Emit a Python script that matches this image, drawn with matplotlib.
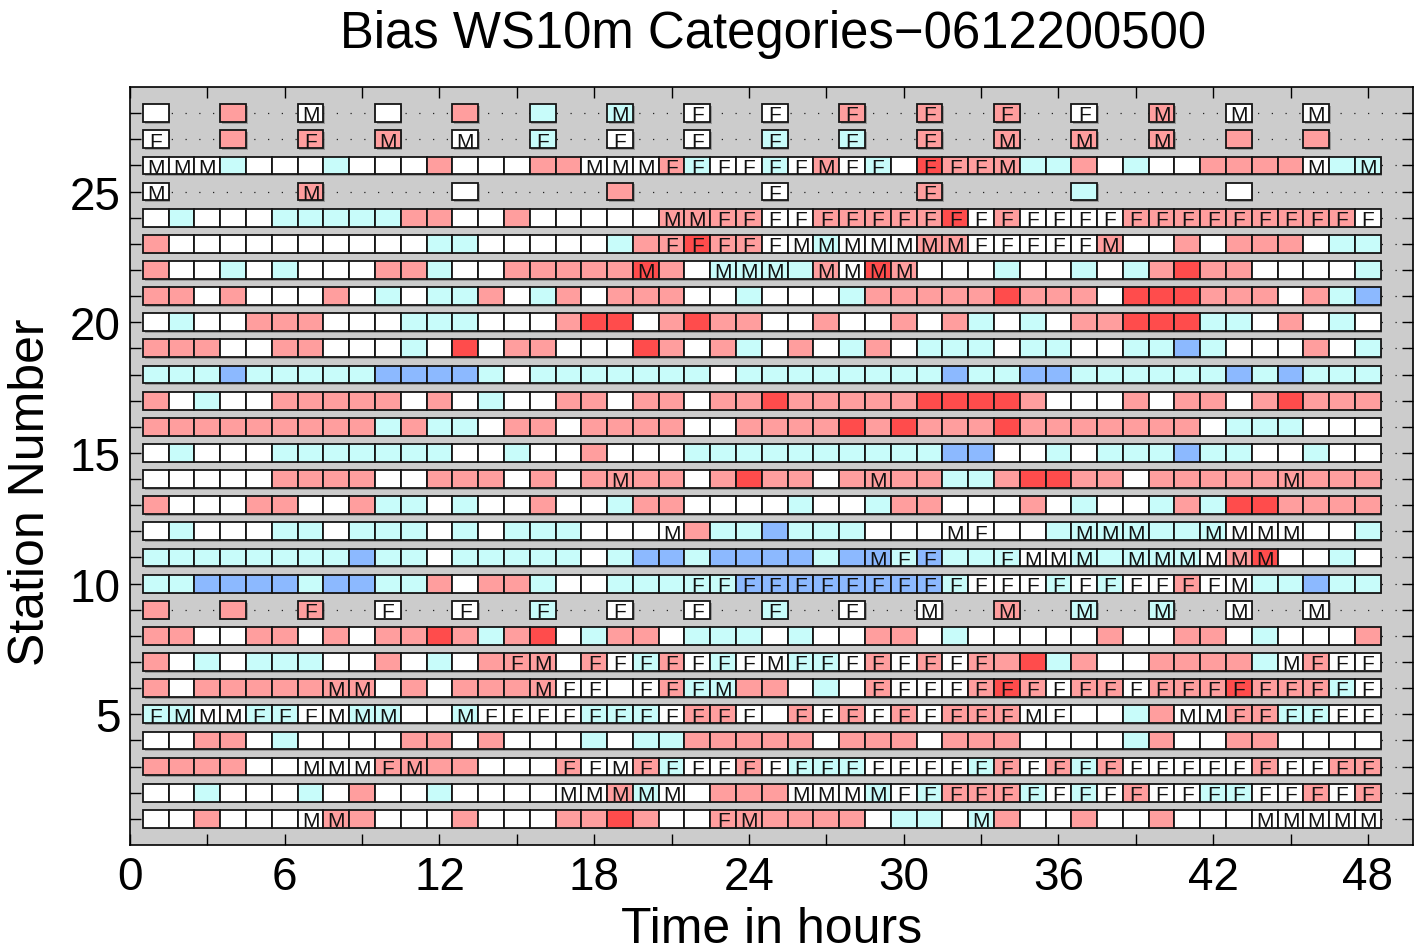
import matplotlib
matplotlib.use('Agg')
import matplotlib.pyplot as plt
from matplotlib.patches import Rectangle
import matplotlib.patheffects as pe

plt.rcParams['font.family'] = ['Liberation Sans', 'DejaVu Sans']

hours = list(range(1, 49))
stations = list(range(1, 29))

# bias category per station (station 1 first), one char per hour 1..48
# W=near zero, C=light negative, B=negative, R=light positive, D=positive, .=no data
category = [
    "WWRWWWWRRWWW RWWWRRDRWWRR RRRRWCCWCRWW RWWRWWWWWWWW",  # 1
    "WWCWWWCWRWWC WWWWWWRCWWRR RWWWCWCRRRCW CWRWWCCWWRWR",  # 2
    "RRRRWWWWWRRR RWWWRWWRCWWR WCCCWWWWCRWR CRWWWWWRWWRR",  # 3
    "WWRRWCWWWWRR WRWWWCWCCRRR RRWRRRWRRRWW WWCRWWRRWWWW",  # 4
    "CCWWCCWWCCWW CWWWWCCCWRRW WRWRWRWRRRWW WWCRWWRRCCWW",  # 5
    "RWRRRRRRRWRW RRRRWWWWRCCR RWCWRWWWRDRW RRWRRRDRRRCW",  # 6
    "RWCWCCCWWRWC WRRRWRWCRWCW WCCWRWRWRRDC RWWRRRRCWRWW",  # 7
    "RRWWRRWRWRRD RCRDWCRRWCCC WCWWRRWCWWWW WRWWRRWCWWWR",  # 8
    "R..R..R..W.. W..C..W..W.. C..W..W..R.. C..C..W..W..",  # 9
    "CCBBBBCBBCCR WRRCWWCCCCCB BBBBBBBCWWWC WCWWRWWCCBCC",  # 10
    "CCCCCCCCBCCW CCCCCWCBBCBB BBCBBCBCCCWW CCCCCWRDWWCW",  # 11
    "WCWWWCCWCCCW CWCCCWWWWRCC BCCCWWWWWWWC CCCCCCWWWWWC",  # 12
    "RWWWRRWWRCCW CWWRWWCRRWWW WCWWCRRWWWRW CWWCRCDDRRRR",  # 13
    "WWWWWRRRRWWR RRWRWRRRRWRD RRWRRRRCCRDD RRWRRRRRRRRR",  # 14
    "WCWWWCCCCCCC WWCWWRWWWCCC CCCCCCCBBWWC WCCCBCCWWCWW",  # 15
    "RRRRRRRRRCRC CWRRWRRRRWWR RRRDRDRRRDRR RRRRRWCCCWWW",  # 16
    "RWCWWRRRRRWR WCWWRRWRRWRR DRRRRRDDDDRW WWRWRRWRDRRR",  # 17
    "CCCBCCCCCBBB BCWCCCCCCCWC CCCCCCCBCCBB CCCCCCBCBCCC",  # 18
    "RRRWWRRWWWCW DWRRWWWDRWRC WRWCRWCCCWCC WWCCBCWWWRWC",  # 19
    "WCWWRRRWWWCC CWWWRDDWRDRR WWRWWRWRCWCW RRDDDCCWRWCW",  # 20
    "RRWRWWWRWCWC CRWCRWRRRWWC WWWCRRRRRDRR RWDDDRRRWRCB",  # 21
    "RWWCWCWWWRRC WWRRRRRDRWCC CCRWDRWWWCWW CWCRDRRWWWWC",  # 22
    "RWWWWWWWWWWC CWWWWWCRRDRR WWCWWWRRWWWW WRWWRWRRRWCC",  # 23
    "WCWWWCCCCCRR WWRWWWWWRRRR WWRRRRRDWRWW WWRRRRRRRRRW",  # 24
    "W.....R..... W.....R..... W.....R..... C.....W.....",  # 25
    "WWWCWWWCWWWR WWWRRWWWRCWW CWRWCWDRRRCC RWCWWRRRRWCC",  # 26
    "W..R..R..R.. W..C..W..W.. C..C..R..R.. R..R..R..R..",  # 27
    "W..R..W..W.. R..C..C..W.. W..R..R..R.. W..R..W..W..",  # 28
]

# letter flags per station, one char per hour 1..48 (. = none)
flags = [
    "......MM.... ..........FM ........M... .......MMMMM",  # 1
    "............ ....MMMMM... .MMMMFFFFFFF FFFFFFFFFFFF",  # 2
    "......MMMFM. ....FFMFFFFF FFFFFFFFFFFF FFFFFFFFFFFF",  # 3
    "............ ............ ............ ............",  # 4
    "FMMMFFFMMM.. MFFFFFFFFFFF .FFFFFFFFFMF ....MMFFFFFF",  # 5
    ".......MM... ...MFF.FFFM. ....FFFFFFFF FFFFFFFFFFFF",  # 6
    "............ ..FM.FFFFFFF MFFFFFFFF... ........MFFF",  # 7
    "............ ............ ............ ............",  # 8
    "......F..F.. F..F..F..F.. F..F..M..M.. M..M..M..M..",  # 9
    "............ .........FFF FFFFFFFFFFFF FFFFFFM.....",  # 10
    "............ ............ ....MFF..FMM M.MMMMMM....",  # 11
    "............ ........M... .......MF... MMM..MMMM...",  # 12
    "............ ............ ............ ............",  # 13
    "............ ......M..... ....M....... ........M...",  # 14
    "............ ............ ............ ............",  # 15
    "............ ............ ............ ............",  # 16
    "............ ............ ............ ............",  # 17
    "............ ............ ............ ............",  # 18
    "............ ............ ............ ............",  # 19
    "............ ............ ............ ............",  # 20
    "............ ............ ............ ............",  # 21
    "............ .......M..MM M.MMMM...... ............",  # 22
    "............ ........FFFF FMMMMMMMFFFF FM..........",  # 23
    "............ ........MMFF FFFFFFFFFFFF FFFFFFFFFFFF",  # 24
    "M.....M..... ............ F.....F..... ............",  # 25
    "MMM......... .....MMMFFFF FFMFF.FFFM.. .........M.M",  # 26
    "F.....F..M.. M..F..F..F.. F..F..F..M.. M..M........",  # 27
    "......M..... ......M..F.. F..F..F..F.. F..M..M..M..",  # 28
]

xtick_values = list(range(0, 49, 3))
xtick_labels = [str(v) if v % 6 == 0 else '' for v in xtick_values]
ytick_labels = [str(s) if s % 5 == 0 else '' for s in stations]

title = 'Bias WS10m Categories\u22120612200500'
xlabel = 'Time in hours'
ylabel = 'Station Number'

colmap = {'W': '#ffffff', 'C': '#c8fcfa', 'R': '#ff9e9e', 'D': '#ff4c4c', 'B': '#8cb9ff'}

W, H = 1415, 953
fig = plt.figure(figsize=(W / 100, H / 100), dpi=100)
ax = fig.add_axes([130 / W, 1 - 846 / H, (1413 - 130) / W, (846 - 88) / H])
ax.set_facecolor('#cccccc')
xmax = 49.75
ax.set_xlim(0, xmax)
ax.set_ylim(0, 29)

for s in stations:
    ax.plot([0, xmax], [s, s], ls=(0, (1, 10)), color='#222222', lw=0.9, zorder=1)

shadow = [pe.SimplePatchShadow(offset=(1.2, -1.2), shadow_rgbFace='#7a7a7a', alpha=0.6), pe.Normal()]
for i, s in enumerate(stations):
    cat = category[i].replace(' ', '')
    flg = flags[i].replace(' ', '')
    for j, h in enumerate(hours):
        c = cat[j]
        if c == '.':
            continue
        rect = Rectangle((h - 0.5, s - 0.34), 1.0, 0.68, facecolor=colmap[c],
                         edgecolor='#151515', lw=1.3, zorder=3)
        rect.set_path_effects(shadow)
        ax.add_patch(rect)
        if flg[j] != '.':
            ax.text(h, s - 0.28, flg[j], ha='center', va='baseline', fontsize=15,
                    color='#111111', zorder=4)

ax.set_xticks(xtick_values)
ax.set_xticklabels(xtick_labels)
ax.set_yticks(stations)
ax.set_yticklabels(ytick_labels)
ax.tick_params(direction='in', length=8, width=1, top=True, right=True, labelsize=33)
ax.tick_params(axis='x', pad=7)
ax.tick_params(axis='y', pad=7)
for sp in ax.spines.values():
    sp.set_linewidth(1.2)

fig.text(773 / W, 1 - 48 / H, title, ha='center', va='baseline', fontsize=36.6)
fig.text(771.5 / W, 1 - 943 / H, xlabel, ha='center', va='baseline', fontsize=36)
fig.text(31 / W, 1 - 492 / H, ylabel, ha='center', va='center', rotation=90, fontsize=36)

fig.savefig('out.png', dpi=100)
